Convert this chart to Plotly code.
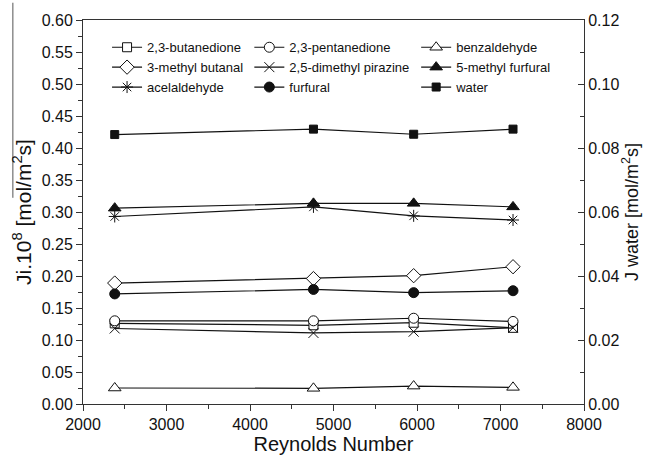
import plotly.graph_objects as go

reynolds = [2380, 4760, 5960, 7150]
butanedione = [0.126, 0.123, 0.127, 0.119]
pentanedione = [0.130, 0.130, 0.134, 0.129]
benzaldehyde = [0.025, 0.0245, 0.028, 0.026]
methyl_butanal = [0.189, 0.196, 0.2005, 0.2145]
dimethyl_pirazine = [0.118, 0.111, 0.113, 0.119]
methyl_furfural = [0.306, 0.3135, 0.3135, 0.308]
acetaldehyde = [0.293, 0.308, 0.294, 0.2875]
furfural = [0.172, 0.179, 0.174, 0.177]
water = [0.0842, 0.0859, 0.0843, 0.0859]

FONT = "Liberation Sans, Arial, sans-serif"
LC = "#111111"

fig = go.Figure()

def add(name, y, symbol, fill, legend, size=10, axis="y", lw=1):
    fig.add_trace(go.Scatter(
        x=reynolds, y=y, name=name, mode="lines+markers", yaxis=axis,
        legend=legend,
        line=dict(color=LC, width=1.2),
        marker=dict(symbol=symbol, size=size, color=fill,
                    line=dict(color=LC, width=lw)),
    ))

# column 1
add("2,3-butanedione", butanedione, "square", "white", "legend", size=9)
add("3-methyl butanal", methyl_butanal, "diamond", "white", "legend", size=11)
add("acelaldehyde", acetaldehyde, "asterisk-open", LC, "legend", size=10)
# column 2
add("2,3-pentanedione", pentanedione, "circle", "white", "legend2", size=10)
add("2,5-dimethyl pirazine", dimethyl_pirazine, "x-thin-open", LC, "legend2", size=10)
add("furfural", furfural, "circle", LC, "legend2", size=10)
# column 3
add("benzaldehyde", benzaldehyde, "triangle-up", "white", "legend3", size=11)
add("5-methyl furfural", methyl_furfural, "triangle-up", LC, "legend3", size=11)
add("water", water, "square", LC, "legend3", size=8, axis="y2")

leg = dict(font=dict(family=FONT, size=13, color="#111"), bgcolor="rgba(0,0,0,0)",
           yanchor="top", y=0.968, xanchor="left", tracegroupgap=0)

fig.update_layout(
    width=651, height=460,
    margin=dict(l=83, r=67, t=20, b=56, autoexpand=False),
    paper_bgcolor="white", plot_bgcolor="white",
    font=dict(family=FONT, color="#111"),
    showlegend=True,
    legend=dict(leg, x=0.048),
    legend2=dict(leg, x=0.332),
    legend3=dict(leg, x=0.665),
    shapes=[dict(type="line", xref="paper", yref="paper",
                 x0=-0.14, x1=-0.14, y0=1.045, y1=0.537,
                 line=dict(color="#555", width=1))],
    xaxis=dict(
        range=[2000, 8000], dtick=1000, tick0=2000, automargin=False,
        showline=True, linecolor="#333", linewidth=1, mirror=True,
        ticks="outside", ticklen=6, tickcolor="#333",
        minor=dict(dtick=500, ticks="outside", ticklen=4, tickcolor="#333", showgrid=False),
        showgrid=False, zeroline=False,
        tickfont=dict(size=16, family=FONT),
        title=dict(text="Reynolds Number", font=dict(size=20, family=FONT), standoff=4),
    ),
    yaxis=dict(
        range=[0, 0.6], dtick=0.05, tick0=0, tickformat=".2f", automargin=False,
        showline=True, linecolor="#333", linewidth=1,
        ticks="outside", ticklen=6, tickcolor="#333",
        minor=dict(dtick=0.025, ticks="outside", ticklen=4, tickcolor="#333", showgrid=False),
        showgrid=False, zeroline=False,
        tickfont=dict(size=16, family=FONT),
        title=dict(text="Ji.10<sup>8</sup> [mol/m<sup>2</sup>s]", font=dict(size=21, family=FONT), standoff=4),
    ),
    yaxis2=dict(
        range=[0, 0.12], dtick=0.02, tick0=0, tickformat=".2f", automargin=False,
        overlaying="y", side="right",
        showline=True, linecolor="#333", linewidth=1,
        ticks="inside", ticklen=6, tickcolor="#333",
        minor=dict(dtick=0.01, ticks="inside", ticklen=4, tickcolor="#333", showgrid=False),
        showgrid=False, zeroline=False,
        tickfont=dict(size=16, family=FONT),
        title=dict(text="J water [mol/m<sup>2</sup>s]", font=dict(size=18, family=FONT), standoff=4),
    ),
)

fig.write_html("out.html", post_script="document.body.style.margin='0';",
               config={"displayModeBar": False})
